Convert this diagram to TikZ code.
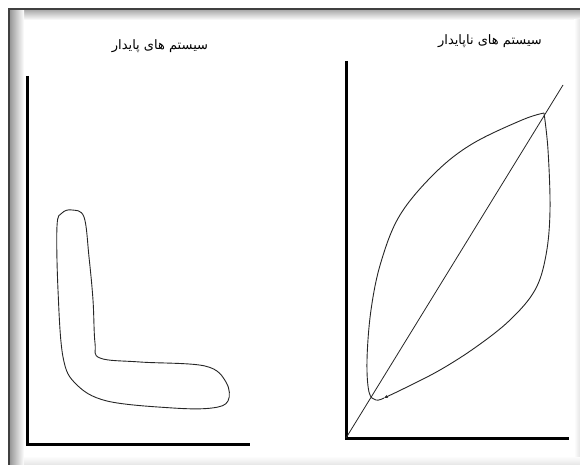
\documentclass[tikz,border=0pt]{standalone}
\usepackage{fontspec}
\newfontfamily\arabicfont[Script=Arabic]{DejaVu Sans}
\TeXXeTstate=1
\usetikzlibrary{arrows.meta}
\begin{document}
\begin{tikzpicture}[x=1pt,y=-1pt,
  axis/.style={line width=3pt,black},
  curve/.style={line width=0.9pt,black!85},
  title/.style={font=\arabicfont\fontsize{13}{15}\selectfont,inner sep=0pt}]
\useasboundingbox (0,0) rectangle (580,465);
\fill[white] (0,0) rectangle (580,465);
% frame shadow
\shade[top color=gray!65, bottom color=white] (10,10) rectangle (580,20);
\shade[left color=gray!80, right color=white] (10,10) rectangle (24,465);
\shade[top color=white, bottom color=gray!20] (24,456) rectangle (580,465);
\shade[left color=white, right color=gray!20] (574,20) rectangle (580,456);
\draw[line width=2pt, black!75] (9,465) -- (9,9) -- (580,9);
% titles
\node[title] (t1) at (160,46) {\beginR سیستم های پایدار\endR};
\node[title] (t2) at (490,41) {\beginR سیستم های ناپایدار\endR};
% left graph
\coordinate (o1) at (27,444);
\draw[axis] (27,76) -- (o1) -- (250,444);
\draw[curve] plot[smooth cycle, tension=0.6] coordinates {
  (72,210) (84,217) (89,257) (93,300) (95,343) (100,358) (140,362) (205,366)
  (226,382) (228,401) (212,408) (173,408) (107,401) (76,384) (63,357)
  (58,290) (57,226) (62,213)};
% right graph
\coordinate (o2) at (346,438);
\coordinate (d2) at (563,85);
\draw[axis] (346,61) -- (o2) -- (569,438);
\draw[line width=0.8pt,black!85] (o2) -- (d2);
\coordinate (tip) at (544,113);
\coordinate (cusp) at (384,398);
\draw[curve] plot[smooth, tension=0.6] coordinates {
  (tip) (522,120) (472,144) (435,173) (400,215) (381,262) (371,310) (367,360)
  (369,392) (376,400) (cusp)};
\draw[curve, -{Stealth[length=4pt,width=3pt]}] plot[smooth, tension=0.6] coordinates {
  (tip) (548,150) (550,210) (546,255) (535,290) (510,320) (476,347) (440,370)
  (405,388) (cusp)};
\end{tikzpicture}
\end{document}
